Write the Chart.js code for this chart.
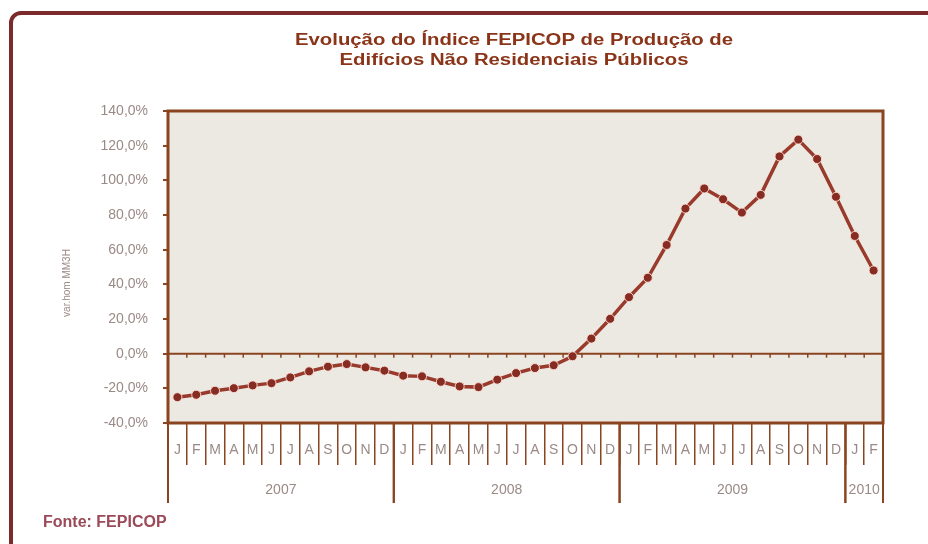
<!DOCTYPE html>
<html>
<head>
<meta charset="utf-8">
<script src="https://cdn.jsdelivr.net/npm/chart.js@4.4.1/dist/chart.umd.min.js"></script>
<style>
html,body{margin:0;padding:0;background:#fff;}
#wrap{width:928px;height:544px;}
</style>
</head>
<body>
<div id="wrap"><canvas id="grafico" width="928" height="544"></canvas></div>
<script>

/* dados */

let meses = [
   "J","F","M","A","M","J","J","A","S","O","N","D",
   "J","F","M","A","M","J","J","A","S","O","N","D",
   "J","F","M","A","M","J","J","A","S","O","N","D",
   "J","F"
];

let anos = ["2007","2008","2009","2010"];

let mesesPorAno = [12,12,12,2];

let valores = [
   -25.1,-23.7,-21.4,-19.9,-18.3,-17.0,-13.7,-10.2,-7.5,-6.0,-7.9,-9.8,
   -12.7,-13.1,-16.2,-18.9,-19.3,-15.0,-11.2,-8.3,-6.7,-1.5,8.7,20.1,
   32.6,43.8,62.7,83.7,95.3,89.1,81.4,91.6,113.8,123.5,112.3,90.5,
   67.9,48.0
];

let ticksY = [-40,-20,0,20,40,60,80,100,120,140];

let titulo = [
   "Evolução do Índice FEPICOP de Produção de",
   "Edifícios Não Residenciais Públicos"
];

let tituloY = "var.hom MM3H";

let fonte = "Fonte: FEPICOP";

let corTexto = "#9a8a85";
let corEixo = "#8a4420";

function formatarPct(v){

   return v.toFixed(1).replace(".",",") + "%";

}

function fronteira(x, i){

   /* linha entre categorias */
   let passo =
      x.getPixelForValue(1) - x.getPixelForValue(0);

   return x.getPixelForValue(i) - passo/2;

}

let enfeites = {

   id: "enfeites",

   beforeDraw(chart){

      let ctx = chart.ctx;
      let a = chart.chartArea;

      ctx.save();

      ctx.fillStyle = "#ffffff";
      ctx.fillRect(0,0,chart.width,chart.height);

      /* moldura */
      ctx.strokeStyle = "#7b2b2b";
      ctx.lineWidth = 4;
      ctx.beginPath();
      ctx.roundRect(11,13,chart.width+20,chart.height+20,10);
      ctx.stroke();

      /* fundo da area */
      ctx.fillStyle = "#ece9e2";
      ctx.fillRect(a.left,a.top,a.right-a.left,a.bottom-a.top);

      ctx.restore();

   },

   beforeDatasetsDraw(chart){

      let ctx = chart.ctx;
      let a = chart.chartArea;
      let x = chart.scales.x;
      let y = chart.scales.y;

      ctx.save();

      /* linha do zero */
      let y0 = y.getPixelForValue(0);

      ctx.strokeStyle = corEixo;
      ctx.lineWidth = 2;
      ctx.beginPath();
      ctx.moveTo(a.left,y0);
      ctx.lineTo(a.right,y0);
      ctx.stroke();

      ctx.lineWidth = 1.5;

      for(let i = 1; i < meses.length; i++){

         let xb = fronteira(x,i);

         ctx.beginPath();
         ctx.moveTo(xb,y0);
         ctx.lineTo(xb,y0+4);
         ctx.stroke();

      }

      /* borda */
      ctx.strokeStyle = corEixo;
      ctx.lineWidth = 3;
      ctx.strokeRect(a.left,a.top,a.right-a.left,a.bottom-a.top);

      ctx.restore();

   },

   afterDraw(chart){

      let ctx = chart.ctx;
      let a = chart.chartArea;
      let x = chart.scales.x;

      ctx.save();

      /* separadores e rotulos dos anos */
      let ini = 0;

      ctx.strokeStyle = corEixo;
      ctx.lineWidth = 2;
      ctx.font = "14px 'Liberation Sans'";
      ctx.fillStyle = corTexto;
      ctx.textAlign = "center";
      ctx.textBaseline = "middle";

      anos.forEach(function(ano, k){

         let fim = ini + mesesPorAno[k];

         let x1 = fronteira(x,ini);
         let x2 = fronteira(x,fim);

         ctx.beginPath();
         ctx.moveTo(x1,a.bottom);
         ctx.lineTo(x1,a.bottom+80);
         ctx.moveTo(x2,a.bottom);
         ctx.lineTo(x2,a.bottom+80);
         ctx.stroke();

         ctx.fillText(ano,(x1+x2)/2,a.bottom+67);

         ini = fim;

      });

      /* titulo do eixo y */
      ctx.save();
      ctx.translate(67,283);
      ctx.rotate(-Math.PI/2);
      ctx.font = "10px 'Liberation Sans'";
      ctx.fillText(tituloY,0,0);
      ctx.restore();

      /* titulo */
      ctx.font = "bold 16px 'Liberation Sans'";
      ctx.fillStyle = "#8a3418";
      ctx.textBaseline = "alphabetic";

      let w = ctx.measureText(titulo[0]).width;

      ctx.save();
      ctx.translate(514,0);
      ctx.scale(438/w,1);
      ctx.fillText(titulo[0],0,45);
      ctx.fillText(titulo[1],0,65);
      ctx.restore();

      /* fonte */
      ctx.font = "bold 16px 'Liberation Sans'";
      ctx.fillStyle = "#9a4a58";
      ctx.textAlign = "left";
      ctx.fillText(fonte,43,527);

      ctx.restore();

   }

};

let ctx =
   document.getElementById("grafico").getContext("2d");

let grafico =
   new Chart(ctx, {

      type: "line",

      data: {

         labels: meses,

         datasets: [{

            data: valores,

            borderColor: "#993a2c",
            borderWidth: 3.5,
            pointRadius: 4.5,
            pointBackgroundColor: "#862c22",
            pointBorderColor: "rgba(255,225,215,0.9)",
            pointBorderWidth: 1,
            tension: 0

         }]

      },

      options: {

         responsive: false,
         animation: false,
         devicePixelRatio: 1,

         layout: {
            padding: { top: 111, right: 45, left: 0, bottom: 0 }
         },

         plugins: {

            legend: { display: false },
            tooltip: { enabled: false }

         },

         scales: {

            x: {

               offset: true,

               grid: {
                  offset: true,
                  drawOnChartArea: false,
                  drawTicks: true,
                  tickLength: 42,
                  color: corEixo,
                  lineWidth: 1.5
               },

               border: { display: false },

               ticks: {
                  autoSkip: false,
                  maxRotation: 0,
                  padding: -23,
                  color: corTexto,
                  font: { family: "'Liberation Sans'", size: 14 }
               },

               afterFit: function(s){ s.height = 121; }

            },

            y: {

               min: -40,
               max: 140,

               afterBuildTicks: function(s){
                  s.ticks = ticksY.map(v => ({ value: v }));
               },

               grid: {
                  drawOnChartArea: false,
                  drawTicks: true,
                  tickLength: 5,
                  color: corEixo,
                  lineWidth: 2
               },

               border: { display: false },

               ticks: {
                  padding: 15,
                  color: corTexto,
                  font: { family: "'Liberation Sans'", size: 14 },
                  callback: function(v){ return formatarPct(v); }
               },

               afterFit: function(s){ s.width = 168; }

            }

         }

      },

      plugins: [enfeites]

   });

</script>
</body>
</html>
